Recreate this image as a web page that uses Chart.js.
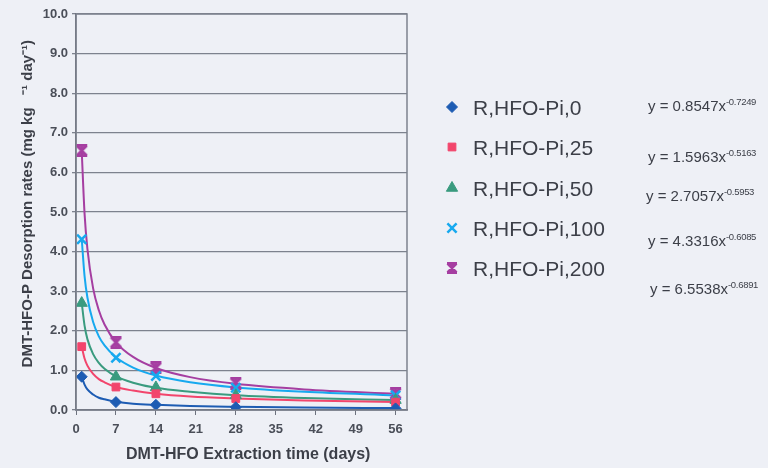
<!DOCTYPE html>
<html>
<head>
<meta charset="utf-8">
<script src="https://cdn.jsdelivr.net/npm/chart.js@4.4.1/dist/chart.umd.min.js"></script>
<style>
  html,body{margin:0;padding:0;background:#eef0f6;}
  .wrap{position:relative;width:768px;height:468px;}
  canvas{position:absolute;left:0;top:0;}
  .lab{position:absolute;font-family:"Liberation Sans",Arial,sans-serif;color:#3c3f48;white-space:nowrap;line-height:1;}
  .leg{font-size:21px;left:473px;}
  .eq{font-size:15px;}
  .eq sup{font-size:9.5px;vertical-align:6px;letter-spacing:-0.3px;}
</style>
</head>
<body>
<div class="wrap">
  <canvas id="chart" width="768" height="468"></canvas>
  <div class="lab leg" style="top:97px">R,HFO-Pi,0</div>
  <div class="lab leg" style="top:137px">R,HFO-Pi,25</div>
  <div class="lab leg" style="top:178px">R,HFO-Pi,50</div>
  <div class="lab leg" style="top:218px">R,HFO-Pi,100</div>
  <div class="lab leg" style="top:258px">R,HFO-Pi,200</div>
  <div class="lab eq" style="left:648px;top:97px">y = 0.8547x<sup>-0.7249</sup></div>
  <div class="lab eq" style="left:648px;top:148px">y = 1.5963x<sup>-0.5163</sup></div>
  <div class="lab eq" style="left:646px;top:187px">y = 2.7057x<sup>-0.5953</sup></div>
  <div class="lab eq" style="left:648px;top:232px">y = 4.3316x<sup>-0.6085</sup></div>
  <div class="lab eq" style="left:650px;top:280px">y = 6.5538x<sup>-0.6891</sup></div>
</div>
<script>
// sampling days (days)
const days = [1, 7, 14, 28, 56];
const pi0   = [0.84, 0.20, 0.13, 0.07, 0.04];
const pi25  = [1.60, 0.58, 0.41, 0.29, 0.20];
const pi50  = [2.70, 0.84, 0.57, 0.37, 0.25];
const pi100 = [4.31, 1.32, 0.86, 0.56, 0.37];
const pi200 = [6.55, 1.71, 1.07, 0.68, 0.42];

// power trend lines
const trendDays = [1, 1.5, 2, 3, 4, 5, 7, 10, 14, 20, 28, 40, 56];
const trend0   = [0.85, 0.64, 0.52, 0.39, 0.31, 0.27, 0.21, 0.16, 0.13, 0.10, 0.08, 0.06, 0.05];
const trend25  = [1.60, 1.30, 1.12, 0.91, 0.78, 0.70, 0.58, 0.49, 0.41, 0.34, 0.29, 0.24, 0.20];
const trend50  = [2.71, 2.13, 1.79, 1.41, 1.19, 1.04, 0.85, 0.69, 0.56, 0.46, 0.37, 0.30, 0.25];
const trend100 = [4.33, 3.38, 2.84, 2.22, 1.86, 1.63, 1.33, 1.07, 0.87, 0.70, 0.57, 0.46, 0.37];
const trend200 = [6.55, 4.96, 4.07, 3.07, 2.52, 2.16, 1.71, 1.34, 1.06, 0.83, 0.66, 0.52, 0.41];

const yTicks = [0, 1, 2, 3, 4, 5, 6, 7, 8, 9, 10];

// excel style "star" marker: an X with bars on top and bottom
function hourglass(size, color){
  const cv = document.createElement('canvas');
  cv.width = size; cv.height = size;
  const g = cv.getContext('2d');
  g.strokeStyle = color;
  g.lineWidth = 2.6;
  g.beginPath();
  g.moveTo(1.5, 1.5); g.lineTo(size - 1.5, size - 1.5);
  g.moveTo(size - 1.5, 1.5); g.lineTo(1.5, size - 1.5);
  g.moveTo(1, 1.4); g.lineTo(size - 1, 1.4);
  g.moveTo(1, size - 1.4); g.lineTo(size - 1, size - 1.4);
  g.moveTo(size / 2, 2); g.lineTo(size / 2, size - 2);
  g.stroke();
  return cv;
}

const series = [
  {name:'R,HFO-Pi,0',   pts:pi0,   trend:trend0,   color:'#1d5cb3', style:'rectRot',  r:5.5, bw:1},
  {name:'R,HFO-Pi,25',  pts:pi25,  trend:trend25,  color:'#f2456c', style:'rect',     r:5.5, bw:1},
  {name:'R,HFO-Pi,50',  pts:pi50,  trend:trend50,  color:'#3a9b7f', style:'triangle', r:6.5, bw:1},
  {name:'R,HFO-Pi,100', pts:pi100, trend:trend100, color:'#17a9ef', style:'crossRot', r:6.5, bw:2.5},
  {name:'R,HFO-Pi,200', pts:pi200, trend:trend200, color:'#a53ea1', style:hourglass(13, '#a53ea1'), r:6.5, bw:2.5}
];
const legendY = [107, 147, 188, 228, 268];
const legendStar = hourglass(12, '#a53ea1');

const toXY = (xs, ys) => xs.map((x, i) => ({x: x, y: ys[i]}));

const datasets = [];
series.forEach(s => {
  datasets.push({
    type:'line', label:s.name + ' trend', data:toXY(trendDays, s.trend),
    borderColor:s.color, borderWidth:2, pointRadius:0, tension:0.4,
    cubicInterpolationMode:'monotone', order:2
  });
});
series.forEach(s => {
  datasets.push({
    type:'scatter', label:s.name, data:toXY(days, s.pts),
    pointStyle:s.style, pointRadius:s.r, pointHoverRadius:s.r,
    backgroundColor:s.color, borderColor:s.color, borderWidth:s.bw, order:1
  });
});

const frame = {
  id:'frame',
  beforeDraw(chart){
    const c = chart.ctx;
    c.save();
    c.fillStyle = '#eef0f6';
    c.fillRect(0, 0, chart.width, chart.height);
    c.restore();
  },
  afterDraw(chart){
    const c = chart.ctx, a = chart.chartArea;
    c.save();
    c.strokeStyle = '#7d828e';
    c.lineWidth = 1.5;
    c.strokeRect(a.left, a.top, a.right - a.left, a.bottom - a.top);
    // legend markers
    series.forEach((s, i) => {
      c.fillStyle = s.color;
      c.strokeStyle = s.color;
      c.lineWidth = s.bw;
      const ps = typeof s.style === 'string' ? s.style : legendStar;
      Chart.helpers.drawPoint(c, {pointStyle:ps, radius:s.r, borderWidth:s.bw}, 452, legendY[i]);
    });
    c.restore();
  }
};

const tickFont = {family:'"Liberation Sans", Arial, sans-serif', size:13, weight:'bold'};

new Chart(document.getElementById('chart'), {
  data:{datasets:datasets},
  options:{
    responsive:false,
    animation:false,
    layout:{padding:{left:0, top:14, right:361, bottom:0}},
    plugins:{legend:{display:false}, tooltip:{enabled:false}},
    scales:{
      x:{
        type:'linear', min:0, max:58,
        afterFit:(sc) => { sc.height = 58; },
        ticks:{stepSize:7, includeBounds:false, color:'#4a4e58', font:tickFont, padding:7},
        grid:{drawOnChartArea:false, drawTicks:true, tickLength:5, color:'#6d727e'},
        border:{color:'#5d626e', width:1.5},
        title:{display:true, text:'   DMT-HFO Extraction time (days)', color:'#3c3f48',
          font:{family:'"Liberation Sans", Arial, sans-serif', size:16, weight:'bold'}, padding:{top:4, bottom:4}}
      },
      y:{
        min:0, max:10,
        afterFit:(sc) => { sc.width = 76; },
        afterBuildTicks:(sc) => { sc.ticks = yTicks.map(v => ({value:v})); },
        ticks:{color:'#4a4e58', font:tickFont, padding:4, callback:(v) => v.toFixed(1)},
        grid:{color:'#7d828e', lineWidth:1.3, tickLength:4},
        border:{color:'#5d626e', width:1.5},
        title:{display:true, text:'    DMT-HFO-P Desorption rates (mg kg   \u207B\u00B9 day\u207B\u00B9)', color:'#3c3f48',
          font:{family:'"Liberation Sans", Arial, sans-serif', size:15, weight:'bold'}, padding:{top:19, bottom:0}}
      }
    }
  },
  plugins:[frame]
});
</script>
</body>
</html>
